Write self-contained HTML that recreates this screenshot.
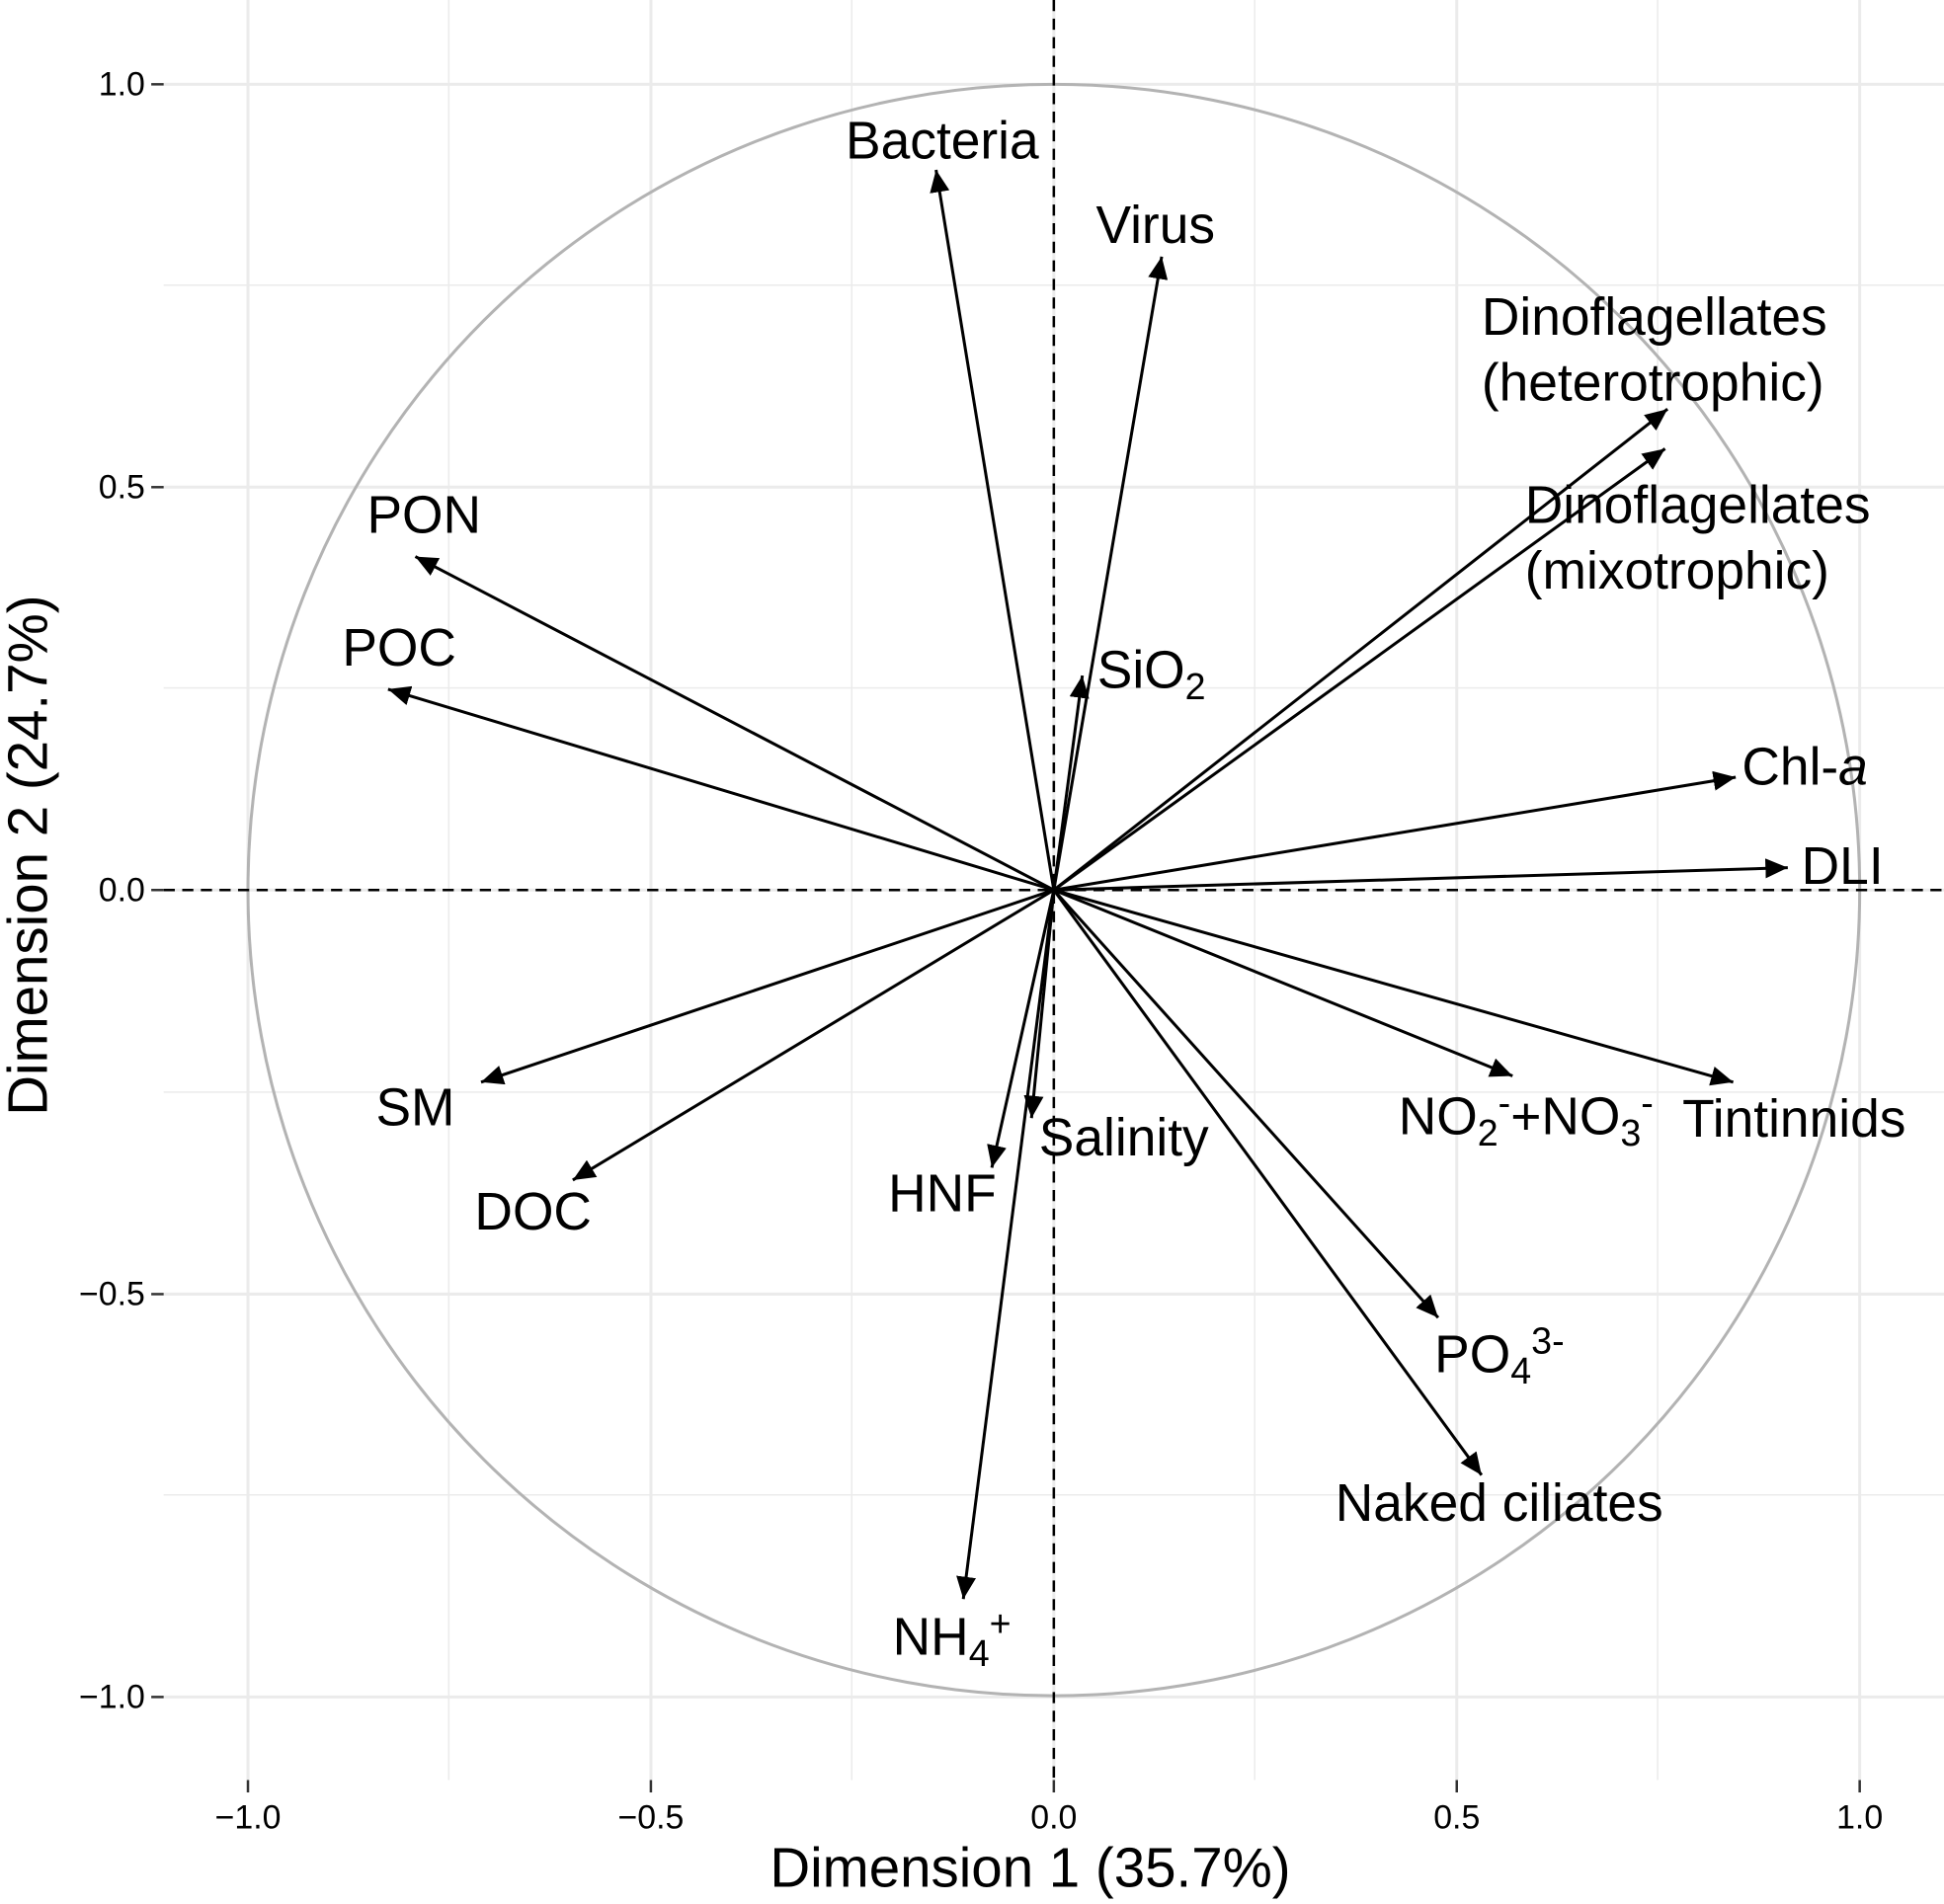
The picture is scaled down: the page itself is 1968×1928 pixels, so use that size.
<!DOCTYPE html>
<html><head><meta charset="utf-8"><style>
html,body{margin:0;padding:0;background:#fff;}
svg{display:block;}
text{font-family:"Liberation Sans",Arial,sans-serif;fill:#000;}
</style></head><body>
<svg width="1968" height="1928" viewBox="0 0 1568 1536" preserveAspectRatio="none" xmlns="http://www.w3.org/2000/svg">
<defs>
<marker id="ah" markerUnits="userSpaceOnUse" markerWidth="20" markerHeight="16" refX="18" refY="8" orient="auto">
<path d="M0,0 L18,8 L0,16 Z" fill="#000"/>
</marker>
</defs>
<rect width="1568" height="1536" fill="#fff"/>
<g stroke="#ebebeb" stroke-width="1.2">
<line x1="362" y1="0" x2="362" y2="1436"/><line x1="687" y1="0" x2="687" y2="1436"/>
<line x1="1012" y1="0" x2="1012" y2="1436"/><line x1="1337" y1="0" x2="1337" y2="1436"/>
<line x1="132" y1="230" x2="1568" y2="230"/><line x1="132" y1="555" x2="1568" y2="555"/>
<line x1="132" y1="881" x2="1568" y2="881"/><line x1="132" y1="1206" x2="1568" y2="1206"/>
</g>
<g stroke="#ebebeb" stroke-width="2.4">
<line x1="200" y1="0" x2="200" y2="1436"/><line x1="525" y1="0" x2="525" y2="1436"/>
<line x1="850" y1="0" x2="850" y2="1436"/><line x1="1175" y1="0" x2="1175" y2="1436"/><line x1="1500" y1="0" x2="1500" y2="1436"/>
<line x1="132" y1="68" x2="1568" y2="68"/><line x1="132" y1="393" x2="1568" y2="393"/>
<line x1="132" y1="718" x2="1568" y2="718"/><line x1="132" y1="1044" x2="1568" y2="1044"/><line x1="132" y1="1369" x2="1568" y2="1369"/>
</g>
<circle cx="850" cy="718" r="650" fill="none" stroke="#b3b3b3" stroke-width="2.4"/>
<g stroke="#000" stroke-width="2" stroke-dasharray="9,6">
<line x1="850" y1="0" x2="850" y2="1436"/>
<line x1="132" y1="718" x2="1568" y2="718"/>
</g>
<g stroke="#000" stroke-width="2.4" marker-end="url(#ah)">
<line x1="850" y1="718" x2="755" y2="137"/>
<line x1="850" y1="718" x2="937" y2="207"/>
<line x1="850" y1="718" x2="1345" y2="330"/>
<line x1="850" y1="718" x2="1343" y2="362"/>
<line x1="850" y1="718" x2="335" y2="449"/>
<line x1="850" y1="718" x2="313" y2="556"/>
<line x1="850" y1="718" x2="873" y2="545"/>
<line x1="850" y1="718" x2="1400" y2="627"/>
<line x1="850" y1="718" x2="1442" y2="700"/>
<line x1="850" y1="718" x2="388" y2="873"/>
<line x1="850" y1="718" x2="462" y2="952"/>
<line x1="850" y1="718" x2="800" y2="942"/>
<line x1="850" y1="718" x2="832" y2="902"/>
<line x1="850" y1="718" x2="1220" y2="868"/>
<line x1="850" y1="718" x2="1398" y2="873"/>
<line x1="850" y1="718" x2="1160" y2="1063"/>
<line x1="850" y1="718" x2="1195" y2="1190"/>
<line x1="850" y1="718" x2="777" y2="1290"/>
</g>
<g font-size="42.5">
<text x="760" y="128" text-anchor="middle">Bacteria</text>
<text x="932" y="196" text-anchor="middle">Virus</text>
<text x="1195" y="270">Dinoflagellates</text>
<text x="1195" y="323">(heterotrophic)</text>
<text x="1230" y="422">Dinoflagellates</text>
<text x="1230" y="475">(mixotrophic)</text>
<text x="342" y="430" text-anchor="middle">PON</text>
<text x="322" y="537" text-anchor="middle">POC</text>
<text x="885" y="555">SiO<tspan font-size="30" dy="9">2</tspan></text>
<text x="1405" y="633">Chl-<tspan font-style="italic">a</tspan></text>
<text x="1453" y="713">DLI</text>
<text x="335" y="908" text-anchor="middle">SM</text>
<text x="430" y="992" text-anchor="middle">DOC</text>
<text x="760" y="977" text-anchor="middle">HNF</text>
<text x="838" y="932">Salinity</text>
<text x="1128" y="915">NO<tspan font-size="30" dy="9">2</tspan><tspan font-size="30" dy="-24">-</tspan><tspan dy="15">+NO</tspan><tspan font-size="30" dy="9">3</tspan><tspan font-size="30" dy="-24">-</tspan></text>
<text x="1357" y="917">Tintinnids</text>
<text x="1157" y="1107">PO<tspan font-size="30" dy="9">4</tspan><tspan font-size="30" dy="-24">3-</tspan></text>
<text x="1077" y="1227">Naked ciliates</text>
<text x="720" y="1335">NH<tspan font-size="30" dy="9">4</tspan><tspan font-size="30" dy="-24">+</tspan></text>
</g>
<g stroke="#333" stroke-width="2">
<line x1="200" y1="1436" x2="200" y2="1446"/><line x1="525" y1="1436" x2="525" y2="1446"/>
<line x1="850" y1="1436" x2="850" y2="1446"/><line x1="1175" y1="1436" x2="1175" y2="1446"/><line x1="1500" y1="1436" x2="1500" y2="1446"/>
<line x1="122" y1="68" x2="132" y2="68"/><line x1="122" y1="393" x2="132" y2="393"/><line x1="122" y1="718" x2="132" y2="718"/>
<line x1="122" y1="1044" x2="132" y2="1044"/><line x1="122" y1="1369" x2="132" y2="1369"/>
</g>
<g font-size="27">
<text x="200" y="1475" text-anchor="middle" fill="#333">−1.0</text>
<text x="525" y="1475" text-anchor="middle" fill="#333">−0.5</text>
<text x="850" y="1475" text-anchor="middle" fill="#333">0.0</text>
<text x="1175" y="1475" text-anchor="middle" fill="#333">0.5</text>
<text x="1500" y="1475" text-anchor="middle" fill="#333">1.0</text>
<text x="117" y="77" text-anchor="end" fill="#333">1.0</text>
<text x="117" y="402" text-anchor="end" fill="#333">0.5</text>
<text x="117" y="727" text-anchor="end" fill="#333">0.0</text>
<text x="117" y="1053" text-anchor="end" fill="#333">−0.5</text>
<text x="117" y="1378" text-anchor="end" fill="#333">−1.0</text>
</g>
<text x="831" y="1522" text-anchor="middle" font-size="45">Dimension 1 (35.7%)</text>
<text transform="translate(38,690) rotate(-90)" text-anchor="middle" font-size="45">Dimension 2 (24.7%)</text>
</svg>
</body></html>
